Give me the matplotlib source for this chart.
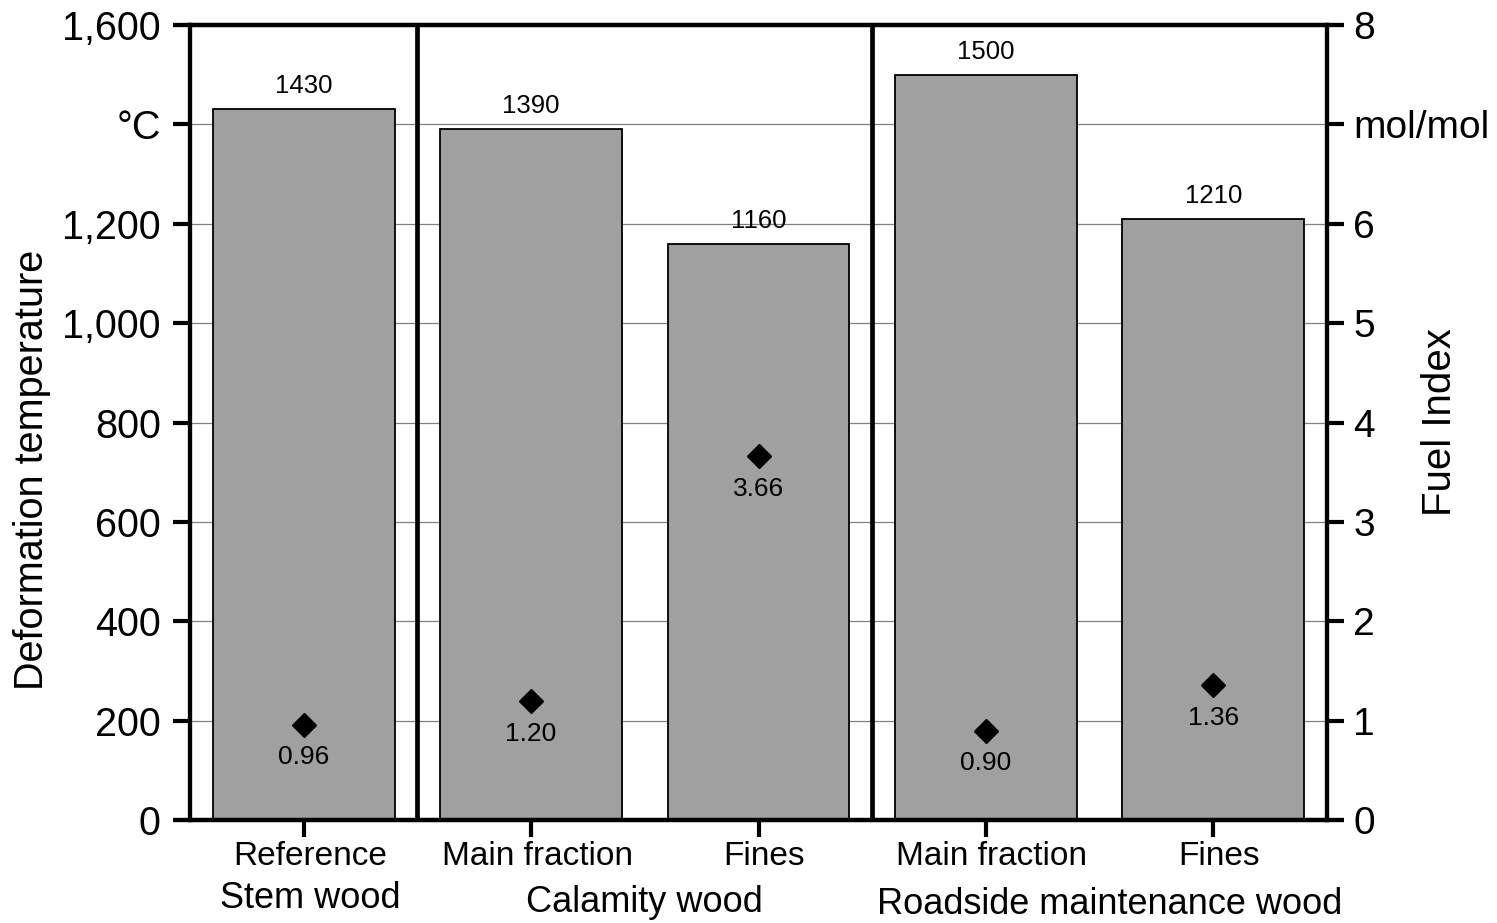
import numpy as np
import matplotlib.pyplot as plt
import matplotlib.transforms as mtransforms

plt.rcParams['font.family'] = ['Liberation Sans', 'DejaVu Sans']

# data
categories = ['Reference', 'Main fraction', 'Fines', 'Main fraction', 'Fines']
groups = ['Stem wood', 'Calamity wood', 'Roadside maintenance wood']
group_pos = [0, 1.5, 3.5]
deform_temp = [1430, 1390, 1160, 1500, 1210]
fuel_index = [0.96, 1.20, 3.66, 0.90, 1.36]
left_ticks = [0, 200, 400, 600, 800, 1000, 1200, 1400, 1600]
left_ticklabels = ['0', '200', '400', '600', '800', '1,000', '1,200', '°C', '1,600']
right_ticks = [0, 1, 2, 3, 4, 5, 6, 7, 8]
right_ticklabels = ['0', '1', '2', '3', '4', '5', '6', 'mol/mol', '8']

fig = plt.figure(figsize=(14.97, 9.23), dpi=100)
ax = fig.add_axes([190/1497, 1-820/923, (1327-190)/1497, (820-25)/923])
x = np.arange(len(categories))

ax.bar(x, deform_temp, width=0.8, color='#a0a0a0', edgecolor='black', linewidth=1.3, zorder=2)
for xi, v in zip(x, deform_temp):
    ax.annotate(str(v), (xi, v), xytext=(0, 8), textcoords='offset points',
                ha='center', va='bottom', fontsize=18.5)

ax.set_xlim(-0.5, 4.5)
ax.set_ylim(0, 1600)
ax.set_yticks(left_ticks)
ax.set_yticklabels(left_ticklabels)
ax.set_xticks(x)
ax.set_xticklabels(categories)
for yv in left_ticks[1:-1]:
    ax.axhline(yv, color='#808080', lw=0.9, zorder=0)
for xs in [0.5, 2.5]:
    ax.axvline(xs, color='black', lw=3.4, zorder=3)

for s in ['left', 'right', 'top', 'bottom']:
    ax.spines[s].set_linewidth(3)
ax.tick_params(axis='both', which='major', length=12, width=3, direction='out')
ax.tick_params(axis='y', labelsize=28.5, pad=9)
ax.tick_params(axis='x', labelsize=24, pad=3)

# category labels sit a little right of the ticks
shift = mtransforms.ScaledTranslation(6/100, 0, fig.dpi_scale_trans)
for lbl in ax.get_xticklabels():
    lbl.set_transform(lbl.get_transform() + shift)

# top/bottom lines span the tick length on both sides
ax.plot([-0.5 - 17/227.4, 4.5 + 17/227.4], [1600, 1600], color='black', lw=3,
        clip_on=False, zorder=4, solid_capstyle='butt')
ax.plot([-0.5 - 17/227.4, 4.5 + 17/227.4], [0, 0], color='black', lw=3,
        clip_on=False, zorder=4, solid_capstyle='butt')

ax2 = ax.twinx()
ax2.set_ylim(0, 8)
ax2.set_yticks(right_ticks)
ax2.set_yticklabels(right_ticklabels)
ax2.tick_params(axis='y', length=12, width=3, labelsize=28, pad=7)
for s in ['left', 'right', 'top', 'bottom']:
    ax2.spines[s].set_linewidth(3)
ax2.plot(x, fuel_index, linestyle='none', marker='D', color='black', markersize=12, zorder=5)
for xi, v in zip(x, fuel_index):
    ax2.annotate('%.2f' % v, (xi, v), xytext=(0, -15), textcoords='offset points',
                 ha='center', va='top', fontsize=19)

fig.text(32/1497, 1-470/923, 'Deformation temperature', rotation=90, fontsize=28.5,
         ha='center', va='center')
fig.text(1440/1497, 1-422/923, 'Fuel Index', rotation=90, fontsize=29,
         ha='center', va='center')

for gp, g, yy, dx in zip(group_pos, groups, [898, 903, 905], [7, 0, 10]):
    ax.text(gp + dx/227.4, -(yy - 820) / 795, g, transform=ax.get_xaxis_transform(),
            fontsize=26, ha='center', va='center')

fig.savefig('out.png', dpi=100)
